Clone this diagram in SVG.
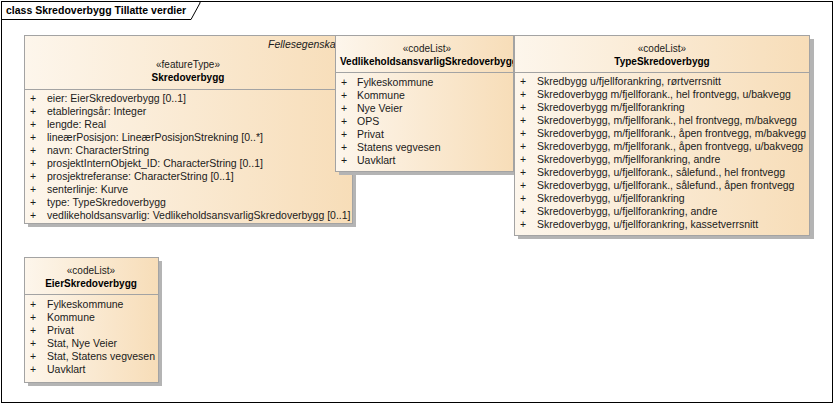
<svg xmlns="http://www.w3.org/2000/svg" width="836" height="406" viewBox="0 0 836 406">
<defs>
<linearGradient id="g" x1="0" y1="0" x2="1" y2="0">
<stop offset="0" stop-color="#FDF6EC"/>
<stop offset="1" stop-color="#F7DDB8"/>
</linearGradient>
<clipPath id="cv"><rect x="336" y="36" width="177" height="40"/></clipPath>
</defs>
<style>
text{font-family:"Liberation Sans",Arial,sans-serif;font-size:10.5px;fill:#1a1a1a}
.b{font-weight:bold;fill:#000;font-size:10px}
.s{font-size:10px}
.c{text-anchor:middle}
.i{font-style:italic}
.box{fill:url(#g);stroke:#A3A3A3;stroke-width:1}
.sh{fill:#B4B4B4}
.ln{stroke:#A3A3A3;stroke-width:1}
</style>
<rect width="836" height="406" fill="#fff"/>
<g id="frame">
<rect x="1.5" y="1.5" width="831" height="401" fill="none" stroke="#000" stroke-width="1"/>
<path d="M1.5 19.5 H191 L200 3 V1.5" fill="none" stroke="#000" stroke-width="1"/>
<text x="6" y="14" class="b" style="font-size:10.5px">class Skredoverbygg Tillatte verdier</text>
</g>
<g id="Skredoverbygg">
<rect class="sh" x="28" y="39" width="328" height="188"/>
<rect class="box" x="24.5" y="35.5" width="328" height="188"/>
<line class="ln" x1="24.5" y1="89.5" x2="352.5" y2="89.5"/>
<text x="268" y="48" class="i">Fellesegenskaper</text>
<text x="188" y="68" class="c s">«featureType»</text>
<text x="188" y="81" class="c b">Skredoverbygg</text>
<text x="30" y="102">+</text><text x="47" y="102">eier: EierSkredoverbygg [0..1]</text>
<text x="30" y="115">+</text><text x="47" y="115">etableringsår: Integer</text>
<text x="30" y="128">+</text><text x="47" y="128">lengde: Real</text>
<text x="30" y="141">+</text><text x="47" y="141">lineærPosisjon: LineærPosisjonStrekning [0..*]</text>
<text x="30" y="154">+</text><text x="47" y="154">navn: CharacterString</text>
<text x="30" y="167">+</text><text x="47" y="167">prosjektInternObjekt_ID: CharacterString [0..1]</text>
<text x="30" y="180">+</text><text x="47" y="180">prosjektreferanse: CharacterString [0..1]</text>
<text x="30" y="193">+</text><text x="47" y="193">senterlinje: Kurve</text>
<text x="30" y="206">+</text><text x="47" y="206">type: TypeSkredoverbygg</text>
<text x="30" y="219">+</text><text x="47" y="219">vedlikeholdsansvarlig: VedlikeholdsansvarligSkredoverbygg [0..1]</text>
</g>
<g id="EierSkredoverbygg">
<rect class="sh" x="28" y="261" width="134" height="125"/>
<rect class="box" x="24.5" y="257.5" width="134" height="125"/>
<line class="ln" x1="24.5" y1="294.5" x2="158.5" y2="294.5"/>
<text x="91" y="274" class="c s">«codeList»</text>
<text x="91" y="287" class="c b">EierSkredoverbygg</text>
<text x="30" y="308">+</text><text x="47" y="308">Fylkeskommune</text>
<text x="30" y="321">+</text><text x="47" y="321">Kommune</text>
<text x="30" y="334">+</text><text x="47" y="334">Privat</text>
<text x="30" y="347">+</text><text x="47" y="347">Stat, Nye Veier</text>
<text x="30" y="360">+</text><text x="47" y="360">Stat, Statens vegvesen</text>
<text x="30" y="373">+</text><text x="47" y="373">Uavklart</text>
</g>
<g id="VedlikeholdsansvarligSkredoverbygg">
<rect class="sh" x="339" y="39" width="178" height="136"/>
<rect class="box" x="335.5" y="35.5" width="178" height="136"/>
<line class="ln" x1="335.5" y1="72.5" x2="513.5" y2="72.5"/>
<text x="427" y="52" class="c s">«codeList»</text>
<g clip-path="url(#cv)"><text x="340" y="65" class="b">VedlikeholdsansvarligSkredoverbygg</text></g>
<text x="341" y="86">+</text><text x="357" y="86">Fylkeskommune</text>
<text x="341" y="99">+</text><text x="357" y="99">Kommune</text>
<text x="341" y="112">+</text><text x="357" y="112">Nye Veier</text>
<text x="341" y="125">+</text><text x="357" y="125">OPS</text>
<text x="341" y="138">+</text><text x="357" y="138">Privat</text>
<text x="341" y="151">+</text><text x="357" y="151">Statens vegvesen</text>
<text x="341" y="164">+</text><text x="357" y="164">Uavklart</text>
</g>
<g id="TypeSkredoverbygg">
<rect class="sh" x="518" y="39" width="296" height="200"/>
<rect class="box" x="514.5" y="35.5" width="295" height="200"/>
<line class="ln" x1="514.5" y1="72.5" x2="809.5" y2="72.5"/>
<text x="662" y="52" class="c s">«codeList»</text>
<text x="662" y="65" class="c b">TypeSkredoverbygg</text>
<text x="520" y="85">+</text><text x="537" y="85">Skredbygg u/fjellforankring, rørtverrsnitt</text>
<text x="520" y="98">+</text><text x="537" y="98">Skredoverbygg m/fjellforank., hel frontvegg, u/bakvegg</text>
<text x="520" y="111">+</text><text x="537" y="111">Skredoverbygg m/fjellforankring</text>
<text x="520" y="124">+</text><text x="537" y="124">Skredoverbygg, m/fjellforank., hel frontvegg, m/bakvegg</text>
<text x="520" y="137">+</text><text x="537" y="137">Skredoverbygg, m/fjellforank., åpen frontvegg, m/bakvegg</text>
<text x="520" y="150">+</text><text x="537" y="150">Skredoverbygg, m/fjellforank., åpen frontvegg, u/bakvegg</text>
<text x="520" y="163">+</text><text x="537" y="163">Skredoverbygg, m/fjellforankring, andre</text>
<text x="520" y="176">+</text><text x="537" y="176">Skredoverbygg, u/fjellforank., sålefund., hel frontvegg</text>
<text x="520" y="189">+</text><text x="537" y="189">Skredoverbygg, u/fjellforank., sålefund., åpen frontvegg</text>
<text x="520" y="202">+</text><text x="537" y="202">Skredoverbygg, u/fjellforankring</text>
<text x="520" y="215">+</text><text x="537" y="215">Skredoverbygg, u/fjellforankring, andre</text>
<text x="520" y="228">+</text><text x="537" y="228">Skredoverbygg, u/fjellforankring, kassetverrsnitt</text>
</g>
<g id="connectors"></g>
</svg>
